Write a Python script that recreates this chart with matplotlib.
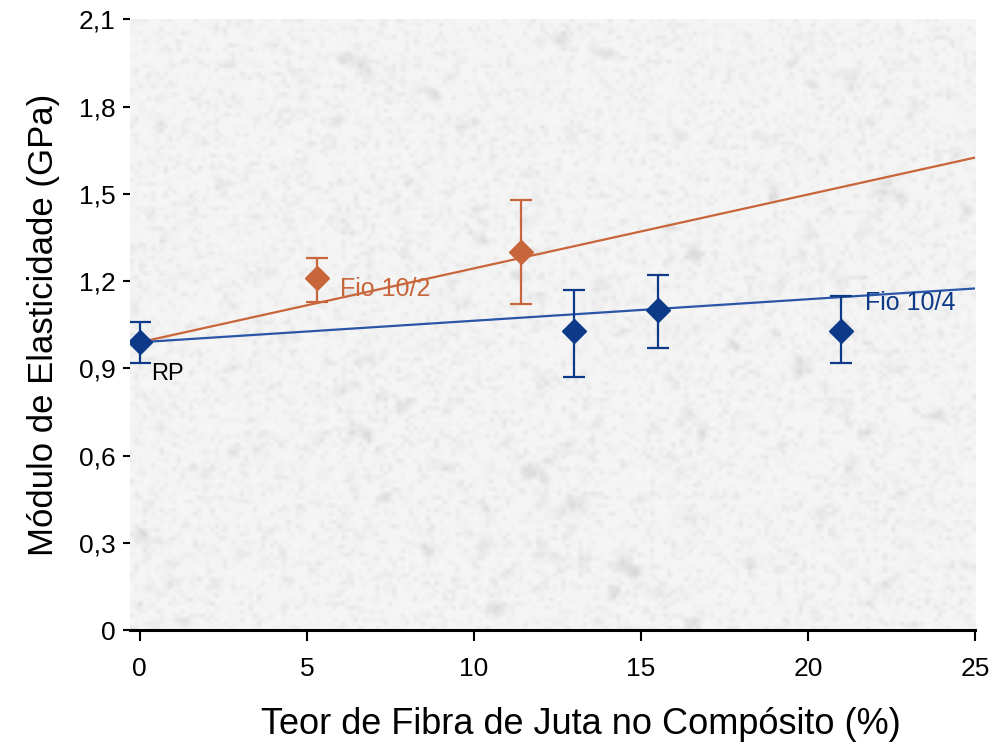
import numpy as np
import matplotlib.pyplot as plt
from matplotlib.ticker import FuncFormatter

# teor de fibra (%) e modulo (GPa)
x_rp = [0.0]
y_rp = [0.99]
err_rp = [0.07]

x_102 = [5.3, 11.4]
y_102 = [1.21, 1.30]
err_102_low = [0.08, 0.18]
err_102_high = [0.07, 0.18]

x_104 = [13.0, 15.5, 21.0]
y_104 = [1.03, 1.10, 1.03]
err_104_low = [0.16, 0.13, 0.11]
err_104_high = [0.14, 0.12, 0.12]

# retas de tendencia (inicio em RP)
trend_x = [0, 25]
trend_102 = [0.99, 1.625]
trend_104 = [0.99, 1.175]

brown = '#c8653a'
navy = '#0c3a88'
blue_line = '#2a55a8'

plt.rcParams['font.family'] = ['Liberation Sans', 'DejaVu Sans']
narrow = ['Liberation Sans Narrow', 'Liberation Sans', 'DejaVu Sans']

fig = plt.figure(figsize=(9.9, 7.45), dpi=100)
ax = fig.add_axes([0.131, 0.154, 0.854, 0.82])

# fundo "granito": claro com manchas cinzas
rng = np.random.default_rng(7)
tex = rng.normal(0, 1, (150, 200))
k = np.ones(3) / 3
for _ in range(2):
    tex = np.apply_along_axis(lambda r: np.convolve(r, k, mode='same'), 1, tex)
    tex = np.apply_along_axis(lambda c: np.convolve(c, k, mode='same'), 0, tex)
fine = rng.normal(0, 1, (150, 200))
tex = 0.96 - 0.16 * np.clip(tex - 0.25, 0, 2) - 0.03 * np.clip(fine, 0, 2)
ax.imshow(tex, cmap='gray', vmin=0, vmax=1, extent=[-0.3, 25, 0, 2.1],
          aspect='auto', interpolation='bilinear', zorder=0)

ax.plot(trend_x, trend_102, color=brown, lw=1.6, zorder=2)
ax.plot(trend_x, trend_104, color=blue_line, lw=1.6, zorder=2)

ax.errorbar(x_102, y_102, yerr=[err_102_low, err_102_high], fmt='D',
            color=brown, ms=12, capsize=8, elinewidth=1.6, capthick=1.6, zorder=3)
ax.errorbar(x_104, y_104, yerr=[err_104_low, err_104_high], fmt='D',
            color=navy, ms=12, capsize=8, elinewidth=1.6, capthick=1.6, zorder=3)
ax.errorbar(x_rp, y_rp, yerr=err_rp, fmt='D', color=navy, ms=12,
            capsize=8, elinewidth=1.6, capthick=1.6, zorder=4)

ax.text(6.0, 1.15, 'Fio 10/2', color=brown, fontsize=18)
ax.text(21.7, 1.10, 'Fio 10/4', color=navy, fontsize=18)
ax.text(0.35, 0.86, 'RP', color='black', fontsize=17)

ax.set_xlim(-0.3, 25)
ax.set_ylim(0, 2.1)
ax.set_xticks([0, 5, 10, 15, 20, 25])
ax.set_yticks(np.arange(0, 2.11, 0.3))
ax.yaxis.set_major_formatter(FuncFormatter(
    lambda v, p: '0' if abs(v) < 1e-9 else f'{v:.1f}'.replace('.', ',')))

for s in ['top', 'right', 'left']:
    ax.spines[s].set_visible(False)
ax.spines['bottom'].set_linewidth(2.2)
ax.tick_params(axis='x', length=8, width=1.5, labelsize=19, pad=11)
ax.tick_params(axis='y', length=5, width=1.5, labelsize=19, pad=5)
for lab in ax.get_xticklabels() + ax.get_yticklabels():
    lab.set_family(narrow)

ax.set_xlabel('Teor de Fibra de Juta no Compósito (%)', fontsize=26)
ax.xaxis.set_label_coords(0.534, -0.126)
ax.set_ylabel('Módulo de Elasticidade (GPa)', fontsize=25, labelpad=14)

fig.savefig('out.png', dpi=100)
